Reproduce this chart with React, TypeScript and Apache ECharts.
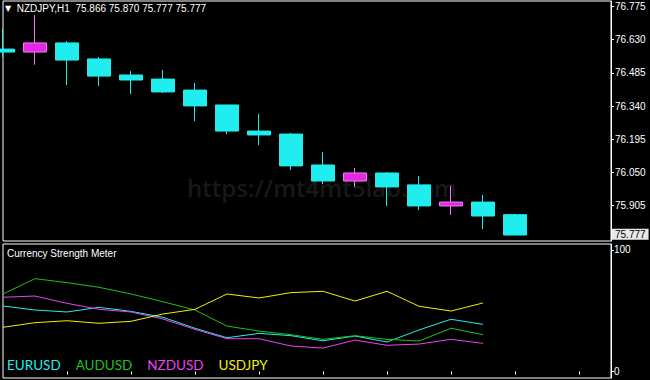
import React, { useEffect, useRef } from "react";
import * as echarts from "echarts";

// ---- data ----
const symbolTitle = "NZDJPY,H1";
const lastQuote = ["75.866", "75.870", "75.777", "75.777"];
const barSlots = Array.from({ length: 20 }, (_, i) => String(i));

// [open, close, low, high]
const candles: number[][] = [
  [76.589, 76.576, 76.554, 76.677],
  [76.576, 76.616, 76.521, 76.738],
  [76.616, 76.541, 76.432, 76.624],
  [76.546, 76.471, 76.428, 76.554],
  [76.476, 76.454, 76.393, 76.493],
  [76.458, 76.402, 76.397, 76.498],
  [76.41, 76.341, 76.275, 76.441],
  [76.345, 76.231, 76.218, 76.346],
  [76.231, 76.214, 76.17, 76.306],
  [76.218, 76.079, 76.061, 76.223],
  [76.083, 76.013, 76.0, 76.14],
  [76.013, 76.048, 75.987, 76.07],
  [76.048, 75.987, 75.904, 76.052],
  [75.996, 75.904, 75.886, 76.035],
  [75.904, 75.921, 75.865, 75.991],
  [75.921, 75.86, 75.803, 75.952],
  [75.866, 75.777, 75.777, 75.87],
];
const priceTicks = [76.775, 76.63, 76.485, 76.34, 76.195, 76.05, 75.905];
const lastPrice = 75.777;

const eurusd = [53.9, 50.6, 49.0, 52.8, 49.5, 44.6, 35.6, 27.8, 31.4, 29.5, 25.3, 29.2, 24.3, 34.2, 43.0, 38.8];
const audusd = [63.8, 76.4, 73.1, 69.3, 63.8, 57.4, 50.6, 37.4, 33.3, 30.3, 26.5, 29.5, 26.5, 25.1, 35.6, 30.3];
const nzdusd = [61.1, 62.1, 56.1, 51.2, 49.0, 43.2, 34.7, 27.0, 27.0, 21.0, 19.3, 25.9, 21.6, 22.6, 26.5, 23.2];
const usdjpy = [36.4, 40.2, 41.8, 39.7, 41.3, 47.3, 51.2, 63.8, 60.5, 64.9, 66.0, 58.0, 66.0, 53.7, 49.8, 56.4];
const strengthTicks = [0, 100];

const CYAN = "#20EEEE";
const MAGENTA = "#E628E6";
const GREEN = "#1FC01F";
const PINK_LINE = "#F040F0";
const YELLOW = "#F0F000";
const FONT = "'Liberation Sans', Arial, sans-serif";

export default function App() {
  const ref = useRef<HTMLDivElement>(null);
  useEffect(() => {
    if (!ref.current) return;
    const chart = echarts.init(ref.current, null, { renderer: "svg" });
    const xCommon = {
      type: "category" as const,
      data: barSlots,
      boundaryGap: false,
      axisLine: { show: false },
      axisLabel: { show: false },
      splitLine: { show: false },
    };
    chart.setOption({
      animation: false,
      backgroundColor: "#000000",
      title: [
        {
          text: "{t|▼}  " + symbolTitle + "  " + lastQuote.join(" "),
          left: 5,
          top: 3,
          padding: 0,
          textStyle: {
            color: "#ffffff",
            fontSize: 10,
            fontWeight: "normal",
            fontFamily: FONT,
            rich: { t: { fontSize: 8, color: "#ffffff", fontFamily: "DejaVu Sans" } },
          },
        },
        {
          text: "Currency Strength Meter",
          left: 7,
          top: 248,
          padding: 0,
          textStyle: { color: "#ffffff", fontSize: 10, fontWeight: "normal", fontFamily: FONT },
        },
      ],
      legend: {
        left: 2,
        top: 358,
        icon: "none",
        itemWidth: 0,
        itemHeight: 0,
        itemGap: 10,
        padding: 0,
        selectedMode: false,
        textStyle: { fontSize: 13.5, fontFamily: "Lato, sans-serif" },
        data: [
          { name: "EURUSD", textStyle: { color: CYAN } },
          { name: "AUDUSD", textStyle: { color: GREEN } },
          { name: "NZDUSD", textStyle: { color: PINK_LINE } },
          { name: "USDJPY", textStyle: { color: YELLOW } },
        ],
      },
      graphic: [
        {
          type: "text",
          left: 187,
          top: 175,
          z: 0,
          zlevel: 0,
          silent: true,
          style: {
            text: "https://mt4mt5lab.com",
            fill: "#181818",
            fontSize: 24,
            fontWeight: 600,
            fontFamily: "'Open Sans', sans-serif",
          },
        },
      ],
      grid: [
        { left: 3, top: 1, width: 608, height: 240, show: true, borderColor: "#ffffff", borderWidth: 1, backgroundColor: "transparent" },
        { left: 3, top: 244, width: 608, height: 134, show: true, borderColor: "#ffffff", borderWidth: 1, backgroundColor: "transparent" },
      ],
      xAxis: [
        { ...xCommon, gridIndex: 0, axisTick: { show: false } },
        {
          ...xCommon,
          gridIndex: 1,
          axisTick: {
            show: true,
            inside: false,
            length: 3,
            interval: (i: number) => i > 0 && i % 2 === 0,
            lineStyle: { color: "#ffffff" },
          },
        },
      ],
      yAxis: [
        {
          type: "value",
          gridIndex: 0,
          position: "right",
          min: 75.751,
          max: 76.799,
          axisLine: { show: true, lineStyle: { color: "#ffffff" } },
          axisTick: { show: true, length: 3, customValues: priceTicks, lineStyle: { color: "#ffffff" } },
          axisLabel: {
            customValues: priceTicks,
            color: "#ffffff",
            fontSize: 10,
            fontFamily: FONT,
            margin: 4,
            formatter: (v: number) => v.toFixed(3),
          },
          splitLine: { show: false },
        },
        {
          type: "value",
          gridIndex: 1,
          position: "right",
          min: -5.3,
          max: 104.9,
          axisLine: { show: true, lineStyle: { color: "#ffffff" } },
          axisTick: { show: true, length: 3, customValues: strengthTicks, lineStyle: { color: "#ffffff" } },
          axisLabel: {
            customValues: strengthTicks,
            color: "#ffffff",
            fontSize: 10,
            fontFamily: FONT,
            margin: 3,
          },
          splitLine: { show: false },
        },
      ],
      series: [
        {
          type: "candlestick",
          xAxisIndex: 0,
          yAxisIndex: 0,
          zlevel: 1,
          z: 5,
          barWidth: 24,
          clip: true,
          data: candles,
          itemStyle: {
            color: MAGENTA,
            borderColor: "#F07AF0",
            color0: CYAN,
            borderColor0: CYAN,
            borderWidth: 1,
          },
          markLine: {
            silent: true,
            symbol: "none",
            lineStyle: { color: "transparent", width: 0 },
            label: {
              show: true,
              position: "end",
              distance: 1,
              formatter: () => lastPrice.toFixed(3),
              color: "#000000",
              backgroundColor: "#e8e8e8",
              padding: [1, 3, 0, 3],
              fontSize: 10,
              fontFamily: FONT,
            },
            data: [{ yAxis: lastPrice }],
          },
        },
        { name: "EURUSD", type: "line", xAxisIndex: 1, yAxisIndex: 1, data: eurusd, showSymbol: false, lineStyle: { color: CYAN, width: 1 }, itemStyle: { color: CYAN } },
        { name: "AUDUSD", type: "line", xAxisIndex: 1, yAxisIndex: 1, data: audusd, showSymbol: false, lineStyle: { color: GREEN, width: 1 }, itemStyle: { color: GREEN } },
        { name: "NZDUSD", type: "line", xAxisIndex: 1, yAxisIndex: 1, data: nzdusd, showSymbol: false, lineStyle: { color: PINK_LINE, width: 1 }, itemStyle: { color: PINK_LINE } },
        { name: "USDJPY", type: "line", xAxisIndex: 1, yAxisIndex: 1, data: usdjpy, showSymbol: false, lineStyle: { color: YELLOW, width: 1 }, itemStyle: { color: YELLOW } },
      ],
    });
    return () => chart.dispose();
  }, []);
  return (
    <div
      ref={ref}
      style={{ position: "fixed", left: 0, top: 0, width: 650, height: 380 }}
    />
  );
}
